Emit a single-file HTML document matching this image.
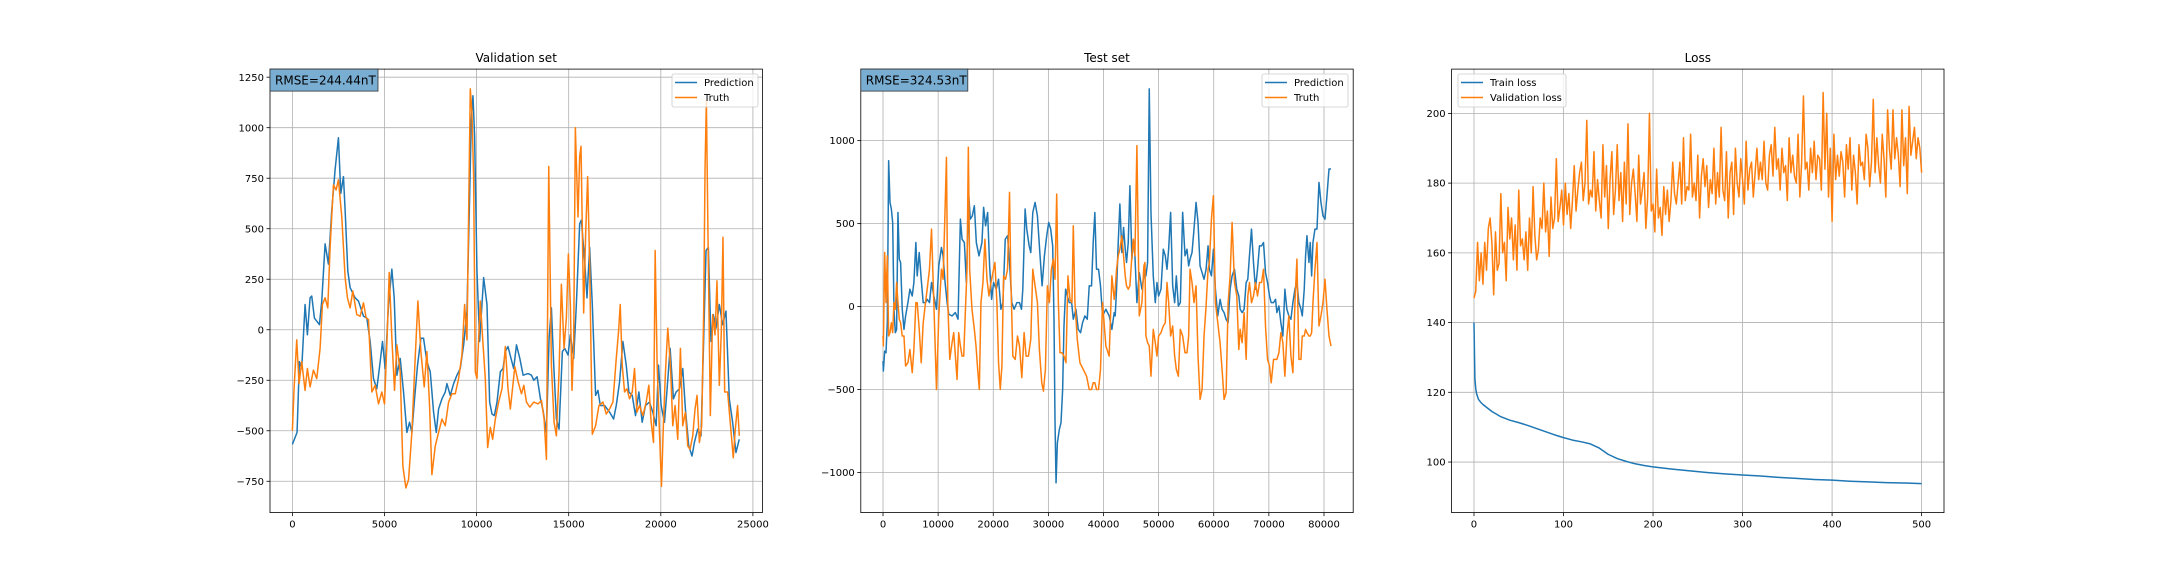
<!DOCTYPE html>
<html><head><meta charset="utf-8"><style>
html,body{margin:0;padding:0;background:#fff;}
svg{display:block;font-family:"DejaVu Sans","Liberation Sans",sans-serif;}
</style></head><body>
<svg id="fig" width="2160" height="576" viewBox="0 0 2160 576" xmlns="http://www.w3.org/2000/svg"></svg>
<script>
// ---------- Validation set data ----------
const valPredT=[0,254,381,507,689,815,960,1051,1196,1468,1595,1776,1957,2138,2319,2500,2627,2772,2863,3008,3135,3406,3588,3860,4041,4222,4403,4584,4766,4892,5037,5219,5400,5527,5672,5853,6034,6215,6360,6487,6632,6795,6976,7121,7302,7484,7665,7810,7937,8118,8299,8390,8571,8752,8933,9114,9296,9477,9622,9712,9803,9893,10020,10165,10383,10564,10709,10836,10963,11108,11289,11434,11560,11705,11869,12014,12166,12347,12527,12798,12978,13105,13285,13466,13610,13791,13935,14061,14188,14332,14476,14657,14783,14964,15090,15271,15415,15596,15686,15866,15993,16137,16281,16461,16588,16715,16949,17220,17437,17581,17762,17942,18123,18267,18448,18628,18809,18989,19169,19386,19567,19747,19873,20018,20198,20343,20505,20686,20830,21011,21191,21335,21516,21695,21823,22003,22184,22328,22455,22581,22725,22852,22996,23177,23357,23537,23718,23899,24079,24259];
const valPred=[-567,-508,-158,-192,125,-25,158,167,58,25,142,425,325,592,792,950,675,758,592,292,208,158,142,67,58,-58,-242,-292,-158,-58,-192,125,300,158,-225,-142,-308,-508,-458,-508,-342,-175,-42,-42,-158,-208,-408,-508,-392,-342,-308,-267,-325,-267,-225,-192,-75,92,658,1042,1158,958,292,-58,258,125,-358,-417,-425,-358,-208,-192,-108,-83,-142,-192,-75,-142,-225,-217,-225,-250,-233,-342,-400,-508,-42,108,-175,-442,-492,-108,-92,-125,-25,-142,125,525,542,342,158,408,125,-325,-300,-375,-375,-408,-442,-375,-258,-58,-175,-308,-325,-425,-308,-458,-375,-358,-408,-475,-175,-375,-458,-292,-92,-342,-308,-292,-192,-392,-575,-625,-558,-492,-525,-42,392,408,-58,75,8,125,25,92,-342,-458,-608,-542];
const valTruthT=[0,91,236,362,507,689,815,960,1142,1323,1504,1631,1776,1921,2048,2229,2374,2500,2682,2863,2990,3135,3280,3497,3678,3860,4005,4131,4313,4494,4675,4856,5001,5128,5255,5400,5545,5672,5853,5998,6161,6306,6487,6632,6813,6976,7157,7302,7447,7574,7756,7937,8118,8299,8480,8661,8842,9023,9204,9350,9477,9567,9658,9748,9839,9929,10020,10201,10328,10473,10600,10745,10872,11017,11198,11380,11560,11705,11832,12076,12256,12437,12563,12708,12888,13105,13339,13520,13664,13791,13917,14061,14206,14332,14476,14603,14747,14874,14982,15090,15180,15271,15361,15505,15596,15668,15812,15920,16029,16137,16281,16461,16642,16859,17040,17220,17401,17581,17707,17797,17906,18032,18159,18303,18448,18574,18701,18845,19025,19206,19350,19477,19603,19693,19801,19928,20036,20144,20253,20379,20523,20650,20776,20920,21065,21191,21335,21462,21588,21733,21859,21967,22094,22220,22328,22400,22473,22563,22689,22815,22942,23050,23177,23285,23375,23465,23627,23754,23934,24043,24169,24259];
const valTruth=[-500,-292,-50,-267,-158,-300,-192,-283,-200,-242,-92,125,158,108,408,717,692,742,558,258,158,108,192,75,67,133,58,50,-308,-275,-367,-308,-367,-75,283,-42,-300,-75,-208,-675,-783,-742,-508,-208,142,-108,-283,-108,-375,-717,-575,-508,-442,-475,-358,-317,-317,-242,-125,125,-50,575,1192,1075,758,-208,-242,142,-42,-242,-583,-483,-542,-442,-358,-292,-83,-292,-392,-183,-258,-317,-275,-358,-383,-358,-367,-350,-442,-642,808,-175,-458,-525,-208,225,-92,58,375,125,-300,-58,1000,558,858,908,83,475,758,325,-517,-475,-375,-358,-417,-392,-358,-142,-8,125,-175,-308,-292,-342,-308,-192,-408,-375,-425,-358,-275,-458,-558,392,-175,-508,-775,-458,-208,8,-175,-475,-375,-542,-92,-475,-408,-575,-592,-525,-392,-325,-558,-475,92,792,1133,458,-425,75,-25,242,-275,-8,458,-308,-308,-442,-633,-492,-375,-525];
const valXTicks=[0,5000,10000,15000,20000,25000];
const valYTicks=[-750,-500,-250,0,250,500,750,1000,1250];

// ---------- Test set data ----------
const testPredT=[0,60,300,540,780,1020,1270,1510,1750,1990,2230,2470,2710,2950,3190,3490,3800,4100,4520,4880,5300,5600,5960,6200,6570,6930,7290,7710,8010,8430,8800,9220,9700,10120,10600,10900,11260,11630,11930,12530,13130,13610,14040,14340,14760,15120,15540,15840,16200,16570,16930,17410,17950,18250,18610,18980,19340,19700,20060,20540,20960,21390,21750,22170,22590,22950,23370,23790,24280,24760,25120,25360,25780,26080,26510,26810,27170,27590,28010,28490,28860,29280,29700,30060,30420,30780,31020,31200,31390,31630,31990,32290,32590,32830,33130,33430,33800,34220,34520,35000,35420,35840,36200,36630,37050,37410,37830,38130,38430,38730,39100,39460,39820,40430,41030,41520,41940,42120,42370,42670,42970,43330,43640,43940,44180,44490,44790,45150,45400,45700,46060,46490,46970,47330,47520,47700,48000,48300,48610,49030,49390,49700,50000,50430,50850,51210,51520,51820,52180,52550,52910,53210,53580,53940,54360,54790,55150,55450,55700,56060,56420,56790,57150,57520,57880,58240,58610,58970,59210,59580,59940,60300,60730,61150,61510,61880,62240,62610,62970,63330,63760,64180,64550,64790,65150,65510,65880,66180,66480,66850,67210,67570,67940,68300,68670,69030,69390,69760,70120,70420,70850,71210,71450,71820,72180,72540,72910,73270,73630,74000,74360,74730,75090,75450,75820,76060,76420,76660,76910,77270,77510,77760,78000,78360,78730,79090,79450,79820,80180,80540,80910,81270];
const testPred=[-328,-388,-268,-278,-97,879,628,588,507,-16,-157,-137,567,286,266,-16,-137,-56,24,105,64,145,386,185,326,165,24,24,44,24,145,64,-16,245,356,306,145,24,-46,-56,-36,-76,527,406,386,145,678,527,547,608,386,306,386,598,487,567,245,44,145,105,165,-16,24,406,427,266,24,-16,24,24,-16,105,588,467,366,326,567,628,547,306,125,306,427,507,467,366,-76,-680,-1062,-821,-740,-700,-499,-117,105,64,24,24,-76,-16,-137,-157,-97,-56,-76,125,125,386,567,225,225,125,-56,-16,-56,-137,-36,-56,105,386,618,326,477,346,266,386,728,286,406,306,24,205,105,185,225,185,266,1312,568,185,24,145,64,105,346,306,225,346,568,125,24,185,4,24,568,306,346,245,286,326,467,628,507,245,205,165,225,366,225,185,346,105,-56,44,-16,-36,-76,-97,105,185,225,105,64,-16,-36,-16,145,165,306,467,266,105,225,366,366,386,205,145,64,24,24,44,-36,4,-97,-177,105,-16,-56,-76,24,105,145,24,-16,-56,105,306,427,266,386,185,386,467,467,748,628,547,527,668,829,829,708,728,748];
const testTruthT=[0,60,300,540,780,1020,1270,1510,1750,1990,2230,2470,2710,2950,3190,3490,3800,4100,4520,4880,5300,5600,5960,6200,6570,6930,7290,7710,8010,8430,8800,9220,9700,10120,10600,10900,11260,11510,11750,12110,12530,12830,13130,13430,13730,14040,14340,14640,15000,15240,15480,15720,16140,16570,16870,17170,17470,17770,18130,18490,18860,19220,19580,19940,20300,20660,20960,21270,21570,21870,22230,22590,22950,23190,23550,23980,24400,24760,25180,25600,25960,26380,26810,27170,27590,28010,28370,28800,29100,29460,29820,30180,30540,30900,31200,31510,31810,32110,32470,32830,33190,33550,33920,34280,34520,34820,35240,35720,36320,36930,37410,37830,38130,38430,38730,39100,39460,39820,40430,41030,41520,41940,42120,42370,42670,42970,43330,43640,43940,44180,44490,44790,45150,45400,45700,46060,46490,46970,47330,47520,47700,48000,48300,48610,49030,49390,49700,50000,50430,50850,51210,51520,51820,52180,52550,52910,53210,53580,53940,54360,54790,55150,55450,55700,56060,56420,56790,57150,57520,57880,58240,58610,58970,59210,59580,59940,60300,60730,61150,61510,61880,62240,62610,62970,63330,63760,64180,64550,64790,65150,65510,65880,66180,66480,66850,67210,67570,67940,68300,68670,69030,69390,69760,70120,70420,70850,71210,71450,71820,72180,72540,72910,73270,73630,74000,74360,74730,75090,75450,75820,76060,76420,76660,76910,77270,77510,77760,78000,78360,78730,79090,79450,79820,80180,80540,80910,81270];
const testTruth=[-177,-237,326,24,306,-177,-157,-97,-157,24,-16,145,24,-76,-97,-177,-177,-358,-338,-258,-398,-258,24,24,-137,-338,-97,24,105,225,467,24,-499,-56,225,165,588,899,24,-318,-217,-157,-298,-439,-157,-237,-298,-298,24,225,960,225,-16,-137,-237,-378,-499,24,145,406,165,64,145,205,266,24,-338,-499,-358,185,165,225,688,165,-298,-318,-177,-237,-428,-157,-298,-298,-197,225,125,24,-258,-459,-509,-378,125,24,225,286,165,678,24,-278,-278,-298,-338,185,44,24,487,24,-197,-338,-378,-419,-499,-499,-459,-459,-499,-499,-378,24,-237,-298,185,44,105,225,306,346,427,306,185,125,105,125,306,406,306,970,-56,24,245,266,-177,-217,-237,-419,-137,-217,-298,-177,-157,-117,-97,145,24,-177,-117,-298,-378,-419,-137,-177,-278,-278,-177,225,145,24,125,-298,-559,-499,-177,4,225,266,527,668,24,-97,-217,-378,-559,-519,24,185,507,145,64,-258,-137,-217,-36,-318,64,145,24,64,145,64,145,145,225,-117,-318,-358,-459,-318,-318,-318,-278,-157,-217,-419,-177,-56,-298,-398,24,286,-318,-318,-177,-177,-137,-157,-177,-177,-157,24,225,386,-117,-56,24,165,-16,-177,-237,-177,-137];
const testXTicks=[0,10000,20000,30000,40000,50000,60000,70000,80000];
const testYTicks=[-1000,-500,0,500,1000];

// ---------- Loss data ----------
const trainEpochs=[0,1,2,3,5,8,10,15,20,30,40,50,60,70,80,90,100,110,120,130,140,150,160,170,180,190,200,220,240,260,280,300,320,340,360,380,400,420,440,460,480,500];
const trainLoss=[140,124,121,119.5,118,117,116.5,115.5,114.5,113,112,111.3,110.5,109.6,108.7,107.8,107,106.3,105.8,105.2,104,102.2,101,100.2,99.5,99,98.6,98,97.5,97,96.6,96.3,96,95.6,95.3,95,94.8,94.5,94.3,94.1,94,93.8];
const valEpochStep=2;
const valLoss=[147,149,163,152,160,151,163,155,167,170,
163,148,166,155,157,177,160,163,152,173,
164,170,158,168,155,178,162,164,158,166,
155,170,160,179,165,158,161,170,167,180,
166,172,159,176,167,170,187,169,173,178,
168,180,171,177,167,175,185,172,178,183,
186,175,180,198,174,178,176,189,172,181,
175,170,191,176,185,167,181,189,171,178,
191,175,183,169,186,174,197,171,180,184,
177,169,188,174,178,183,167,176,200,172,
174,166,184,170,173,165,179,171,178,169,
175,186,177,174,180,186,174,193,175,179,
178,194,176,180,175,188,170,182,187,179,
185,173,181,177,190,174,183,176,196,178,
175,189,170,183,186,171,190,180,176,187,
181,174,192,178,184,186,176,183,190,181,
186,181,192,180,178,188,191,182,196,184,
187,178,190,183,185,175,193,183,188,182,
180,194,176,186,205,184,186,178,190,183,
192,181,188,187,178,206,184,200,176,190,
169,194,181,188,182,189,186,176,191,184,
193,178,188,183,174,191,185,186,181,194,
190,179,186,204,183,193,185,180,194,187,
176,201,190,184,201,187,193,188,179,201,
185,193,177,202,188,192,196,187,193,190,
183];
const lossXTicks=[0,100,200,300,400,500];
const lossYTicks=[100,120,140,160,180,200];

const NS='http://www.w3.org/2000/svg';
const svg=document.getElementById('fig');
function mk(tag,attrs,parent){const e=document.createElementNS(NS,tag);for(const k in attrs)e.setAttribute(k,attrs[k]);(parent||svg).appendChild(e);return e;}
function fmt(v){return (v<0?'\u2212':'')+Math.abs(v);}
const BLUE='#1f77b4',ORANGE='#ff7f0e';
const TOP=69.1,BOT=512.6;

function axes(name,x0,x1,xlim,ylim,xticks,yticks,title){
  const g=mk('g',{});
  
  
  const sx=v=>x0+(v-xlim[0])/(xlim[1]-xlim[0])*(x1-x0);
  const sy=v=>BOT-(v-ylim[0])/(ylim[1]-ylim[0])*(BOT-TOP);
  xticks.forEach(t=>{
    const X=sx(t);
    const gl=mk('line',{x1:X,x2:X,y1:TOP,y2:BOT,stroke:'#b0b0b0','stroke-width':0.8},g);
    
    mk('line',{x1:X,x2:X,y1:BOT,y2:BOT+3.5,stroke:'#000','stroke-width':0.8},g);
    const tx=mk('text',{x:X,y:BOT+15,'font-size':10,'text-anchor':'middle',fill:'#000'},g);
    
    tx.textContent=fmt(t);
  });
  yticks.forEach(t=>{
    const Y=sy(t);
    const gl=mk('line',{x1:x0,x2:x1,y1:Y,y2:Y,stroke:'#b0b0b0','stroke-width':0.8},g);
    
    mk('line',{x1:x0-3.5,x2:x0,y1:Y,y2:Y,stroke:'#000','stroke-width':0.8},g);
    const tx=mk('text',{x:x0-6,y:Y+3.6,'font-size':10,'text-anchor':'end',fill:'#000'},g);
    
    tx.textContent=fmt(t);
  });
  const tt=mk('text',{x:(x0+x1)/2,y:62,'font-size':12,'text-anchor':'middle',fill:'#000'},g);
  
  tt.textContent=title;
  return {g,sx,sy,x0,x1};
}
function series(ax,xs,ys,color,name){
  const d=xs.map((x,i)=>(i?'L':'M')+ax.sx(x).toFixed(2)+' '+ax.sy(ys[i]).toFixed(2)).join('');
  const p=mk('path',{d:d,fill:'none',stroke:color,'stroke-width':1.5,'stroke-linejoin':'round'},ax.g);
  
}
function frame(ax){
  const r=mk('rect',{x:ax.x0,y:TOP,width:ax.x1-ax.x0,height:BOT-TOP,fill:'none',stroke:'#000','stroke-width':0.8},ax.g);
  
}
function legend(ax,bx,labels,colors){
  const w=labels[1].length>8?108:86;
  const lg=mk('g',{},ax.g);
  
  mk('rect',{x:bx,y:74,width:w,height:33,rx:2,fill:'#fff','fill-opacity':0.8,stroke:'#cccccc','stroke-width':0.8},lg);
  labels.forEach((l,i)=>{
    const Y=82.5+i*15;
    const e=mk('g',{},lg);
    
    mk('line',{x1:bx+3,x2:bx+25,y1:Y,y2:Y,stroke:colors[i],'stroke-width':1.5},e);
    const t=mk('text',{x:bx+32,y:Y+3.6,'font-size':10,fill:'#000'},e);
    t.textContent=l;
  });
}
function rmse(ax,text,w){
  const g=mk('g',{},ax.g);
  
  mk('rect',{x:ax.x0,y:TOP,width:w,height:22,fill:'#79add2',stroke:'#333','stroke-width':0.8},g);
  const t=mk('text',{x:ax.x0+5,y:TOP+15.5,'font-size':12,fill:'#000'},g);
  t.textContent=text;
}

// Validation
const a1=axes('validation',270,762.4,[-1215,25515],[-905,1290],valXTicks,valYTicks,'Validation set');
series(a1,valPredT,valPred,BLUE,'validation-prediction-line');
series(a1,valTruthT,valTruth,ORANGE,'validation-truth-line');
frame(a1);
rmse(a1,'RMSE=244.44nT',108);
legend(a1,672,['Prediction','Truth'],[BLUE,ORANGE]);

// Test
const a2=axes('test',860.8,1353.2,[-4030,85300],[-1241,1431],testXTicks,testYTicks,'Test set');
series(a2,testPredT,testPred,BLUE,'test-prediction-line');
series(a2,testTruthT,testTruth,ORANGE,'test-truth-line');
frame(a2);
rmse(a2,'RMSE=324.53nT',107);
legend(a2,1262,['Prediction','Truth'],[BLUE,ORANGE]);

// Loss
const a3=axes('loss',1451.6,1944,[-25,525],[85.5,212.7],lossXTicks,lossYTicks,'Loss');
series(a3,trainEpochs,trainLoss,BLUE,'train-loss-line');
series(a3,valLoss.map((v,i)=>i*valEpochStep),valLoss,ORANGE,'validation-loss-line');
frame(a3);
legend(a3,1458,['Train loss','Validation loss'],[BLUE,ORANGE]);
</script>
</body></html>
